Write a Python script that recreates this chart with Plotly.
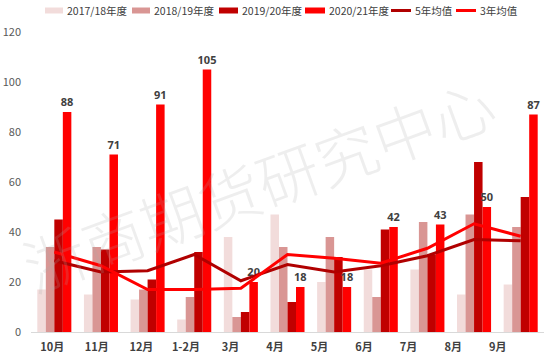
import plotly.graph_objects as go

months = ["10月", "11月", "12月", "1-2月", "3月", "4月", "5月", "6月", "7月", "8月", "9月"]
s1718 = [17, 15, 13, 5, 38, 47, 20, 25, 25, 15, 19]
s1819 = [34, 34, 17, 14, 6, 34, 38, 14, 44, 47, 42]
s1920 = [45, 33, 21, 32, 8, 12, 30, 41, 31, 68, 54]
s2021 = [88, 71, 91, 105, 20, 18, 18, 42, 43, 50, 87]
avg5 = [28.5, 24, 24.5, 31, 20.5, 27, 24, 26.5, 30.5, 37, 36.5]
avg3 = [32, 26.5, 17, 17, 17.5, 31, 29.5, 27.5, 33.5, 43.3, 38.3]
series_names = ["2017/18年度", "2018/19年度", "2019/20年度", "2020/21年度", "5年均值", "3年均值"]

W, H = 550, 357
ML, MR, MT, MB = 31, 6, 32, 25
PW, PH = W - ML - MR, H - MT - MB

bar_colors = ["#F2DCDB", "#D99694", "#C00000", "#FF0000"]
line_colors = ["#B00000", "#FF0000"]
text_col = "#404040"
FONT = "Noto Sans CJK SC"

fig = go.Figure()
for name, vals, col in zip(series_names[:4], [s1718, s1819, s1920, s2021], bar_colors):
    is_last = name == series_names[3]
    fig.add_trace(go.Bar(
        x=months, y=vals, name=name, marker=dict(color=col, line=dict(width=0)),
        text=vals if is_last else None, textposition="outside" if is_last else "none",
        textfont=dict(family="Noto Sans", size=11, color=text_col, weight="bold"),
        constraintext="none", cliponaxis=False, showlegend=False,
    ))
for name, vals, col in zip(series_names[4:], [avg5, avg3], line_colors):
    fig.add_trace(go.Scatter(x=months, y=vals, name=name, mode="lines",
                             line=dict(color=col, width=3), showlegend=False))

# invisible trace carrying the category labels axis
fig.add_trace(go.Scatter(x=months, y=[0] * len(months), xaxis="x2", mode="markers",
                         marker=dict(opacity=0), showlegend=False, hoverinfo="skip"))

def px2x(p):
    return (p - ML) / PW

def px2y(p):
    return (H - MB - p) / PH

# custom legend (layout only)
leg_sw = [(45, 63), (132, 150), (219, 238), (305, 325), (391, 411), (456, 476)]
leg_cols = bar_colors + line_colors
shapes = []
annotations = []
for i, (name, (a, b), col) in enumerate(zip(series_names, leg_sw, leg_cols)):
    if i < 4:
        shapes.append(dict(type="rect", xref="paper", yref="paper",
                           x0=px2x(a), x1=px2x(b), y0=px2y(13.5), y1=px2y(7.5),
                           fillcolor=col, line=dict(width=0)))
    else:
        shapes.append(dict(type="line", xref="paper", yref="paper",
                           x0=px2x(a), x1=px2x(b), y0=px2y(10.5), y1=px2y(10.5),
                           line=dict(color=col, width=3)))
    annotations.append(dict(text=name, xref="paper", yref="paper", x=px2x(b + 2), y=px2y(10.5),
                            xanchor="left", yanchor="middle", showarrow=False,
                            font=dict(family=FONT, size=10.5, color=text_col)))

annotations.append(dict(text="浙商期货研究中心", xref="paper", yref="paper",
                        x=px2x(258), y=px2y(183), showarrow=False, textangle=-20,
                        font=dict(family=FONT, size=62, color="rgba(170,170,170,0.2)", weight=300)))

fig.update_layout(
    template="none",
    width=W, height=H, margin=dict(l=ML, r=MR, t=MT, b=MB, autoexpand=False),
    paper_bgcolor="white", plot_bgcolor="white",
    barmode="group", bargap=0.27, bargroupgap=0,
    shapes=shapes, annotations=annotations,
    xaxis=dict(type="category", categoryarray=months, showticklabels=False, automargin=False,
               showline=True, linecolor="#D9D9D9", linewidth=1, showgrid=False, ticks="",
               zeroline=False, range=[-0.5, 10.5]),
    xaxis2=dict(type="category", categoryarray=months, overlaying="x", range=[-0.478, 11.04],
                showline=False, showgrid=False, ticks="", side="bottom", automargin=False,
                zeroline=False,
                tickfont=dict(family=FONT, size=11, color=text_col, weight="bold"),
                ticklabelstandoff=7),
    yaxis=dict(range=[0, 120], dtick=20, showgrid=False, zeroline=False, showline=False,
               automargin=False, ticks="", tickfont=dict(family=FONT, size=11, color="#595959"),
               ticklabelstandoff=9),
    font=dict(family=FONT),
)

fig.write_html("out.html", config={"displayModeBar": False},
               post_script="document.body.style.margin='0';document.body.style.overflow='hidden';")
